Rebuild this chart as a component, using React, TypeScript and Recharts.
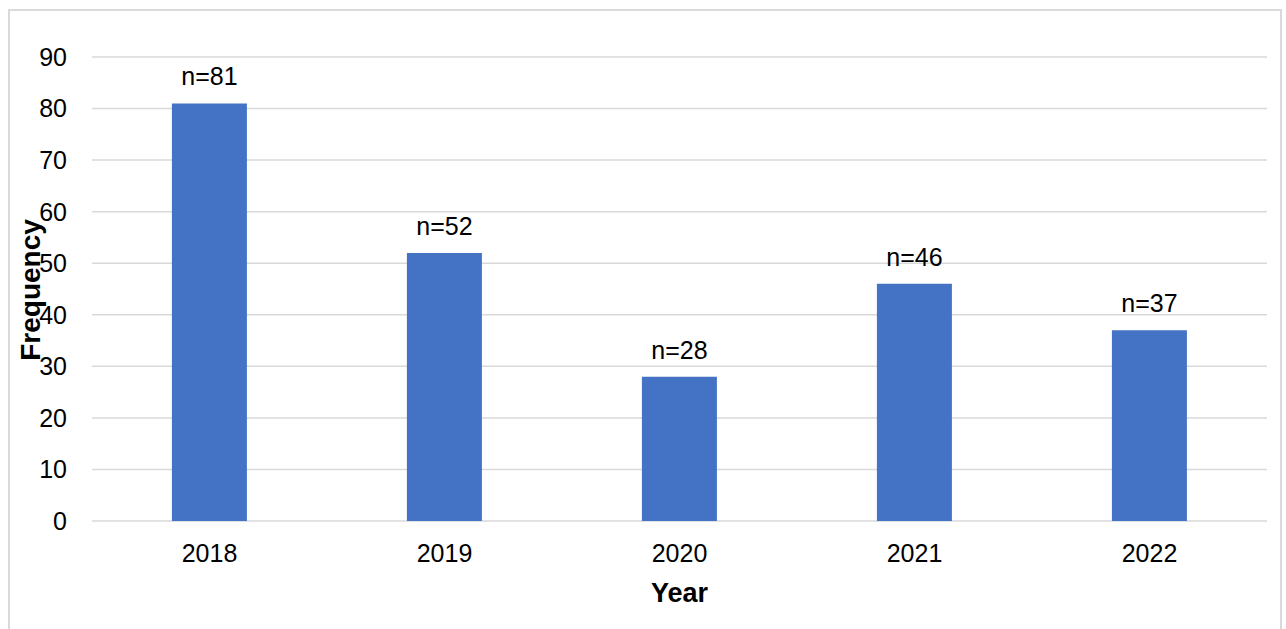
import { BarChart, Bar, XAxis, YAxis, CartesianGrid, LabelList, Label } from 'recharts';

const years = ['2018', '2019', '2020', '2021', '2022'];
const frequency = [81, 52, 28, 46, 37];
const yTicks = [0, 10, 20, 30, 40, 50, 60, 70, 80, 90];

const chartData = years.map((year, i) => ({ year, count: frequency[i] }));

const FONT = '"Liberation Sans", Arial, sans-serif';

export default function App() {
    return (
        <div style={{ position: 'absolute', left: 0, top: 0, width: 1286, height: 629, background: '#fff', overflow: 'hidden', fontFamily: FONT }}>
            <div
                style={{
                    position: 'absolute',
                    left: 8,
                    top: 9,
                    width: 1274,
                    height: 640,
                    border: '2px solid #d9d9d9',
                    boxSizing: 'border-box',
                }}
            />
            <BarChart
                width={1286}
                height={629}
                data={chartData}
                margin={{ top: 57, right: 19, bottom: 48, left: 8 }}
                barCategoryGap="34%"
                style={{ position: 'absolute', left: 0, top: 0 }}
            >
                <CartesianGrid vertical={false} stroke="#d9d9d9" strokeWidth={1.5} />
                <XAxis
                    dataKey="year"
                    height={60}
                    axisLine={false}
                    tickLine={false}
                    tickMargin={17}
                    tick={{ fill: '#000', fontSize: 25, fontFamily: FONT }}
                >
                    <Label
                        content={({ viewBox }: any) => (
                            <text
                                x={viewBox.x + viewBox.width / 2}
                                y={602}
                                textAnchor="middle"
                                fill="#000"
                                fontSize={27}
                                fontWeight="bold"
                                fontFamily={FONT}
                            >
                                Year
                            </text>
                        )}
                    />
                </XAxis>
                <YAxis
                    width={84}
                    domain={[0, 90]}
                    ticks={yTicks}
                    interval={0}
                    axisLine={false}
                    tickLine={false}
                    tickMargin={19}
                    tick={{ fill: '#000', fontSize: 25, fontFamily: FONT }}
                >
                    <Label
                        content={() => (
                            <text
                                x={40}
                                y={290}
                                transform="rotate(-90, 40, 290)"
                                textAnchor="middle"
                                fill="#000"
                                fontSize={28}
                                fontWeight="bold"
                                fontFamily={FONT}
                            >
                                Frequency
                            </text>
                        )}
                    />
                </YAxis>
                <Bar dataKey="count" fill="#4472C4" isAnimationActive={false}>
                    <LabelList
                        dataKey="count"
                        position="top"
                        offset={18}
                        formatter={(v: any) => `n=${v}`}
                        style={{ fill: '#000', fontSize: 25, fontFamily: FONT }}
                    />
                </Bar>
            </BarChart>
        </div>
    );
}
